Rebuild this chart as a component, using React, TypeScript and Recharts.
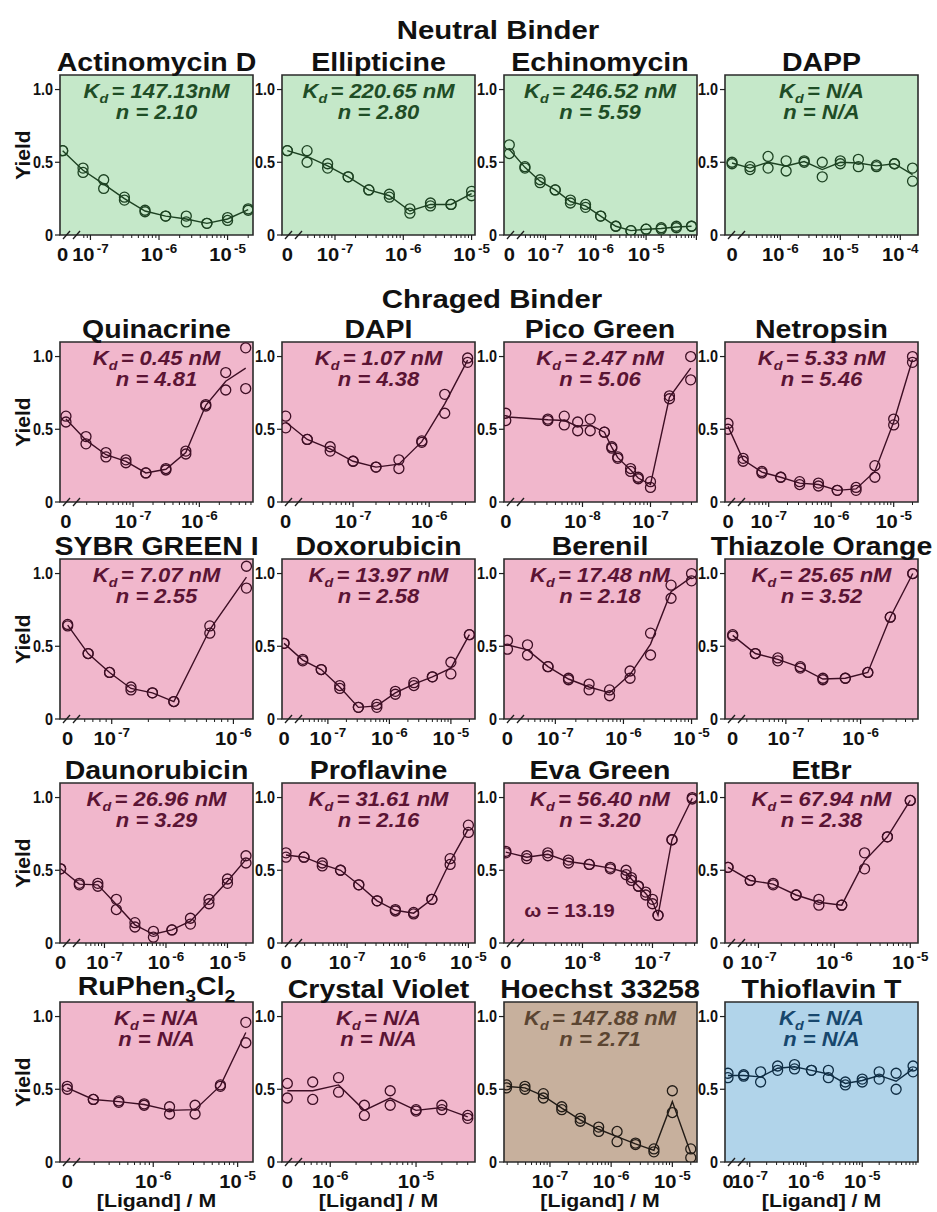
import React from "react";
import {
  ComposedChart,
  Line,
  Scatter,
  XAxis,
  YAxis,
  CartesianGrid,
  ReferenceArea,
} from "recharts";

const FONT = '"Liberation Sans", Arial, Helvetica, sans-serif';

// ---------- data: ligand concentration (M) and two replicate yields ----------
const actinoConc = [0, 7.8e-8, 1.56e-7, 3.13e-7, 6.25e-7, 1.25e-6, 2.5e-6, 5e-6, 1e-5, 2e-5];
const actinoRep1 = [0.58, 0.46, 0.38, 0.26, 0.17, 0.13, 0.13, 0.08, 0.12, 0.18];
const actinoRep2 = [0.58, 0.43, 0.32, 0.24, 0.16, 0.13, 0.09, 0.08, 0.1, 0.17];

const ellipConc = [0, 3.9e-8, 7.8e-8, 1.56e-7, 3.13e-7, 6.25e-7, 1.25e-6, 2.5e-6, 5e-6, 1e-5];
const ellipRep1 = [0.58, 0.58, 0.49, 0.4, 0.31, 0.28, 0.18, 0.22, 0.21, 0.3];
const ellipRep2 = [0.58, 0.5, 0.46, 0.4, 0.31, 0.26, 0.15, 0.2, 0.21, 0.27];

const echinoConc = [0, 3.9e-8, 7.8e-8, 1.56e-7, 3.13e-7, 6.25e-7, 1.25e-6, 2.5e-6, 5e-6, 1e-5, 2e-5, 4e-5, 8e-5];
const echinoRep1 = [0.62, 0.47, 0.38, 0.31, 0.24, 0.21, 0.13, 0.06, 0.03, 0.04, 0.05, 0.06, 0.06];
const echinoRep2 = [0.56, 0.46, 0.36, 0.31, 0.22, 0.19, 0.13, 0.06, 0.03, 0.04, 0.04, 0.05, 0.06];

const dappConc = [0, 3.13e-7, 6.25e-7, 1.25e-6, 2.5e-6, 5e-6, 1e-5, 2e-5, 4e-5, 8e-5, 1.6e-4];
const dappRep1 = [0.5, 0.47, 0.54, 0.51, 0.51, 0.5, 0.51, 0.52, 0.48, 0.49, 0.46];
const dappRep2 = [0.49, 0.45, 0.46, 0.44, 0.5, 0.4, 0.49, 0.47, 0.47, 0.49, 0.37];

const quinaConc = [0, 1.95e-8, 3.9e-8, 7.8e-8, 1.56e-7, 3.13e-7, 6.25e-7, 1.25e-6, 2.5e-6, 5e-6];
const quinaRep1 = [0.59, 0.45, 0.34, 0.29, 0.2, 0.23, 0.35, 0.67, 0.89, 1.06];
const quinaRep2 = [0.55, 0.4, 0.31, 0.27, 0.2, 0.22, 0.33, 0.66, 0.77, 0.78];

const dapiConc = [0, 2.5e-8, 5e-8, 1e-7, 2e-7, 4e-7, 8e-7, 1.6e-6, 3.2e-6];
const dapiRep1 = [0.59, 0.43, 0.38, 0.28, 0.24, 0.29, 0.42, 0.74, 0.99];
const dapiRep2 = [0.51, 0.43, 0.35, 0.28, 0.24, 0.23, 0.41, 0.61, 0.96];

const picoConc = [0, 3.1e-9, 5.4e-9, 8.5e-9, 1.3e-8, 2.1e-8, 2.7e-8, 3.3e-8, 5.1e-8, 6.6e-8, 1e-7, 1.9e-7, 3.9e-7];
const picoRep1 = [0.61, 0.57, 0.59, 0.55, 0.57, 0.48, 0.38, 0.31, 0.23, 0.17, 0.14, 0.73, 1.0];
const picoRep2 = [0.56, 0.56, 0.53, 0.49, 0.49, 0.48, 0.37, 0.3, 0.21, 0.16, 0.1, 0.71, 0.84];

const netroConc = [0, 3.9e-8, 7.8e-8, 1.56e-7, 3.13e-7, 6.25e-7, 1.25e-6, 2.5e-6, 5e-6, 1e-5, 2e-5];
const netroRep1 = [0.54, 0.3, 0.21, 0.17, 0.14, 0.13, 0.08, 0.1, 0.25, 0.57, 1.0];
const netroRep2 = [0.5, 0.28, 0.2, 0.17, 0.12, 0.11, 0.08, 0.08, 0.17, 0.53, 0.96];

const sybrConc = [0, 6.4e-8, 9.6e-8, 1.44e-7, 2.16e-7, 3.24e-7, 6.4e-7, 1.28e-6];
const sybrRep1 = [0.65, 0.45, 0.32, 0.22, 0.18, 0.12, 0.64, 1.05];
const sybrRep2 = [0.64, 0.45, 0.32, 0.2, 0.18, 0.12, 0.59, 0.9];

const doxoConc = [0, 3.9e-8, 7.8e-8, 1.56e-7, 3.13e-7, 6.25e-7, 1.25e-6, 2.5e-6, 5e-6, 1e-5, 2e-5];
const doxoRep1 = [0.52, 0.41, 0.34, 0.23, 0.08, 0.1, 0.19, 0.25, 0.29, 0.39, 0.58];
const doxoRep2 = [0.52, 0.4, 0.34, 0.21, 0.08, 0.08, 0.17, 0.23, 0.29, 0.31, 0.58];

const berenConc = [0, 3.9e-8, 7.8e-8, 1.56e-7, 3.13e-7, 6.25e-7, 1.25e-6, 2.5e-6, 5e-6, 1e-5];
const berenRep1 = [0.54, 0.51, 0.36, 0.28, 0.24, 0.2, 0.33, 0.59, 0.92, 1.0];
const berenRep2 = [0.48, 0.44, 0.36, 0.27, 0.2, 0.16, 0.28, 0.44, 0.83, 0.95];

const thiazConc = [0, 3.9e-8, 7.8e-8, 1.56e-7, 3.13e-7, 6.25e-7, 1.25e-6, 2.5e-6, 5e-6];
const thiazRep1 = [0.58, 0.45, 0.42, 0.36, 0.28, 0.28, 0.32, 0.7, 1.0];
const thiazRep2 = [0.57, 0.45, 0.4, 0.35, 0.27, 0.28, 0.32, 0.7, 1.0];

const daunoConc = [0, 3.9e-8, 7.8e-8, 1.56e-7, 3.13e-7, 6.25e-7, 1.25e-6, 2.5e-6, 5e-6, 1e-5, 2e-5];
const daunoRep1 = [0.51, 0.41, 0.41, 0.3, 0.14, 0.08, 0.09, 0.17, 0.3, 0.44, 0.6];
const daunoRep2 = [0.51, 0.4, 0.39, 0.23, 0.11, 0.04, 0.09, 0.13, 0.27, 0.41, 0.55];

const proflConc = [0, 1.95e-8, 3.9e-8, 7.8e-8, 1.56e-7, 3.13e-7, 6.25e-7, 1.25e-6, 2.5e-6, 5e-6, 1e-5];
const proflRep1 = [0.62, 0.59, 0.55, 0.5, 0.4, 0.29, 0.23, 0.21, 0.3, 0.58, 0.81];
const proflRep2 = [0.59, 0.59, 0.53, 0.5, 0.4, 0.29, 0.22, 0.2, 0.3, 0.54, 0.76];

const evaConc = [0, 1.6e-9, 3.2e-9, 6.3e-9, 1.25e-8, 2.5e-8, 4.2e-8, 5e-8, 6.3e-8, 8e-8, 1e-7, 1.2e-7, 1.9e-7, 3.7e-7];
const evaRep1 = [0.63, 0.6, 0.62, 0.57, 0.54, 0.52, 0.5, 0.45, 0.39, 0.35, 0.3, 0.19, 0.71, 1.0];
const evaRep2 = [0.62, 0.58, 0.6, 0.55, 0.54, 0.51, 0.47, 0.43, 0.39, 0.33, 0.27, 0.19, 0.71, 0.99];

const etbrConc = [0, 7.8e-8, 1.56e-7, 3.13e-7, 6.25e-7, 1.25e-6, 2.5e-6, 5e-6, 1e-5];
const etbrRep1 = [0.52, 0.43, 0.41, 0.33, 0.3, 0.26, 0.62, 0.73, 0.98];
const etbrRep2 = [0.52, 0.43, 0.4, 0.33, 0.26, 0.26, 0.51, 0.73, 0.98];

const ruphenConc = [0, 1.95e-7, 3.9e-7, 7.8e-7, 1.56e-6, 3.13e-6, 6.25e-6, 1.25e-5];
const ruphenRep1 = [0.52, 0.43, 0.42, 0.4, 0.38, 0.39, 0.53, 0.96];
const ruphenRep2 = [0.5, 0.43, 0.41, 0.39, 0.33, 0.33, 0.52, 0.82];

const violetConc = [0, 6.25e-7, 1.25e-6, 2.5e-6, 5e-6, 1e-5, 2e-5, 4e-5];
const violetRep1 = [0.54, 0.55, 0.58, 0.39, 0.49, 0.36, 0.39, 0.32];
const violetRep2 = [0.44, 0.43, 0.48, 0.32, 0.39, 0.35, 0.36, 0.3];

const hoechstConc = [1.95e-8, 3.9e-8, 7.8e-8, 1.56e-7, 3.13e-7, 6.25e-7, 1.25e-6, 2.5e-6, 5e-6, 1e-5, 2e-5];
const hoechstRep1 = [0.53, 0.52, 0.47, 0.38, 0.3, 0.24, 0.21, 0.13, 0.09, 0.49, 0.09];
const hoechstRep2 = [0.51, 0.5, 0.44, 0.36, 0.28, 0.21, 0.14, 0.12, 0.07, 0.34, 0.03];

const thioflConc = [0, 7.8e-8, 1.56e-7, 3.13e-7, 6.25e-7, 1.25e-6, 2.5e-6, 5e-6, 1e-5, 2e-5, 4e-5, 8e-5];
const thioflRep1 = [0.61, 0.6, 0.62, 0.66, 0.67, 0.63, 0.63, 0.55, 0.57, 0.62, 0.61, 0.66];
const thioflRep2 = [0.58, 0.59, 0.55, 0.63, 0.64, 0.63, 0.58, 0.53, 0.55, 0.57, 0.5, 0.62];

// ---------- layout ----------
const COL_LEFT = [60, 282, 503.5, 725];
const ROW_TOP = [75, 342, 559, 783, 1002];
const PLOT_W = 193;
const PLOT_H = 160;
const Y_AXIS_W = 40;
const X_AXIS_H = 44;
const M_TOP = 4;
const M_RIGHT = 4;
const CW = Y_AXIS_W + PLOT_W + M_RIGHT;
const CH = M_TOP + PLOT_H + X_AXIS_H;
const Y_MAX = 1.1;

const BORDER = "#2b2b2b";
const AXIS = "#1e1e1e";
const INK = "#111";

type Theme = { bg: string; mark: string; text: string };
const GREEN: Theme = { bg: "#c5e8c9", mark: "#1d4222", text: "#1f4d26" };
const PINK: Theme = { bg: "#f1b7cc", mark: "#3d0e24", text: "#5b1434" };
const BROWN: Theme = { bg: "#c7b09d", mark: "#221c17", text: "#5b4532" };
const BLUE: Theme = { bg: "#b1d4ea", mark: "#0f2d44", text: "#17476d" };

interface PanelSpec {
  title: React.ReactNode;
  titleDy?: number;
  kd: string;
  n: string;
  theme: Theme;
  conc: number[];
  rep1: number[];
  rep2: number[];
  lo: number; // log10 at left edge of plot
  hi: number; // log10 at right edge of plot
  zero: number | null; // axis position used for the blank (0 M) sample
  decades: number[]; // labelled decades
}

const PANELS: PanelSpec[] = [
  { title: "Actinomycin D", kd: "147.13nM", n: "2.10", theme: GREEN, conc: actinoConc, rep1: actinoRep1, rep2: actinoRep2, lo: -7.444, hi: -4.629, zero: -7.405, decades: [-7, -6, -5] },
  { title: "Ellipticine", kd: "220.65 nM", n: "2.80", theme: GREEN, conc: ellipConc, rep1: ellipRep1, rep2: ellipRep2, lo: -7.776, hi: -4.95, zero: -7.698, decades: [-7, -6, -5] },
  { title: "Echinomycin", kd: "246.52 nM", n: "5.59", theme: GREEN, conc: echinoConc, rep1: echinoRep1, rep2: echinoRep2, lo: -7.825, hi: -3.988, zero: -7.72, decades: [-7, -6, -5] },
  { title: "DAPP", kd: "N/A", n: "N/A", theme: GREEN, conc: dappConc, rep1: dappRep1, rep2: dappRep2, lo: -6.922, hi: -3.705, zero: -6.805, decades: [-6, -5, -4] },

  { title: "Quinacrine", kd: "0.45 nM", n: "4.81", theme: PINK, conc: quinaConc, rep1: quinaRep1, rep2: quinaRep2, lo: -8.102, hi: -5.191, zero: -8.012, decades: [-7, -6] },
  { title: "DAPI", kd: "1.07 nM", n: "4.38", theme: PINK, conc: dapiConc, rep1: dapiRep1, rep2: dapiRep2, lo: -7.934, hi: -5.398, zero: -7.885, decades: [-7, -6] },
  { title: "Pico Green", kd: "2.47 nM", n: "5.06", theme: PINK, conc: picoConc, rep1: picoRep1, rep2: picoRep2, lo: -9.154, hi: -6.316, zero: -9.128, decades: [-8, -7] },
  { title: "Netropsin", kd: "5.33 nM", n: "5.46", theme: PINK, conc: netroConc, rep1: netroRep1, rep2: netroRep2, lo: -7.699, hi: -4.611, zero: -7.651, decades: [-7, -6, -5] },

  { title: "SYBR GREEN I", kd: "7.07 nM", n: "2.55", theme: PINK, conc: sybrConc, rep1: sybrRep1, rep2: sybrRep2, lo: -7.425, hi: -5.839, zero: -7.362, decades: [-7, -6] },
  { title: "Doxorubicin", kd: "13.97 nM", n: "2.58", theme: PINK, conc: doxoConc, rep1: doxoRep1, rep2: doxoRep2, lo: -7.746, hi: -4.608, zero: -7.713, decades: [-7, -6, -5] },
  { title: "Berenil", kd: "17.48 nM", n: "2.18", theme: PINK, conc: berenConc, rep1: berenRep1, rep2: berenRep2, lo: -7.754, hi: -4.92, zero: -7.703, decades: [-7, -6, -5] },
  { title: "Thiazole Orange", kd: "25.65 nM", n: "3.52", theme: PINK, conc: thiazConc, rep1: thiazRep1, rep2: thiazRep2, lo: -7.815, hi: -5.231, zero: -7.712, decades: [-7, -6] },

  { title: "Daunorubicin", kd: "26.96 nM", n: "3.29", theme: PINK, conc: daunoConc, rep1: daunoRep1, rep2: daunoRep2, lo: -7.723, hi: -4.585, zero: -7.713, decades: [-7, -6, -5] },
  { title: "Proflavine", kd: "31.61 nM", n: "2.16", theme: PINK, conc: proflConc, rep1: proflRep1, rep2: proflRep2, lo: -8.073, hi: -4.891, zero: -8.007, decades: [-7, -6, -5] },
  { title: "Eva Green", kd: "56.40 nM", n: "3.20", theme: PINK, conc: evaConc, rep1: evaRep1, rep2: evaRep2, lo: -9.121, hi: -6.364, zero: -9.095, decades: [-8, -7] },
  { title: "EtBr", kd: "67.94 nM", n: "2.38", theme: PINK, conc: etbrConc, rep1: etbrRep1, rep2: etbrRep2, lo: -7.441, hi: -4.898, zero: -7.401, decades: [-7, -6, -5] },

  {
    title: (
      <>
        <tspan>RuPhen</tspan>
        <tspan fontSize={17} dy={7}>3</tspan>
        <tspan dy={-7}>Cl</tspan>
        <tspan fontSize={17} dy={7}>2</tspan>
      </>
    ),
    titleDy: 7,
    kd: "N/A", n: "N/A", theme: PINK, conc: ruphenConc, rep1: ruphenRep1, rep2: ruphenRep2, lo: -7.105, hi: -4.818, zero: -7.019, decades: [-6, -5],
  },
  { title: "Crystal Violet", kd: "N/A", n: "N/A", theme: PINK, conc: violetConc, rep1: violetRep1, rep2: violetRep2, lo: -6.562, hi: -4.313, zero: -6.5, decades: [-6, -5] },
  { title: "Hoechst 33258", kd: "147.88 nM", n: "2.71", theme: BROWN, conc: hoechstConc, rep1: hoechstRep1, rep2: hoechstRep2, lo: -7.751, hi: -4.597, zero: null, decades: [-7, -6, -5] },
  { title: "Thioflavin T", kd: "N/A", n: "N/A", theme: BLUE, conc: thioflConc, rep1: thioflRep1, rep2: thioflRep2, lo: -7.44, hi: -4.009, zero: -7.387, decades: [-7, -6, -5] },
];

const tickTextStyle: React.CSSProperties = {
  fontFamily: FONT,
  fontWeight: 700,
  fill: INK,
};

const near = (u: number, v: number) => Math.abs(u - v) < 1e-9;

function PanelChart({ spec, left, top }: { spec: PanelSpec; left: number; top: number }) {
  const data = spec.conc.map((c, i) => ({
    x: c === 0 ? (spec.zero as number) : Math.log10(c),
    a: spec.rep1[i],
    b: spec.rep2[i],
    m: (spec.rep1[i] + spec.rep2[i]) / 2,
  }));

  // decade ticks plus 2..9 minor ticks, starting after the axis break
  const pxPerDecade = PLOT_W / (spec.hi - spec.lo);
  const minorStart = spec.zero === null ? spec.lo : spec.lo + 21 / pxPerDecade;
  const ticks: number[] = [];
  if (spec.zero !== null) ticks.push(spec.lo, spec.zero);
  for (let e = Math.floor(spec.lo); e <= Math.ceil(spec.hi); e++) {
    for (let k = 1; k <= 9; k++) {
      const v = e + Math.log10(k);
      if (v >= minorStart && v <= spec.hi) ticks.push(v);
    }
  }
  ticks.sort((p, q) => p - q);

  const xTick = (props: any) => {
    const { x, y, payload } = props;
    const v = payload.value as number;
    if (spec.zero !== null && near(v, spec.lo)) {
      // axis break marks
      return (
        <g stroke={AXIS} strokeWidth={1.3}>
          <line x1={x + 3} y1={y + 4} x2={x + 10} y2={y - 4} />
          <line x1={x + 13} y1={y + 4} x2={x + 20} y2={y - 4} />
        </g>
      );
    }
    if (spec.zero !== null && near(v, spec.zero)) {
      return (
        <text transform={`translate(${x} ${y + 26}) scale(1.12 1)`} textAnchor="middle" fontSize={18} style={tickTextStyle}>
          0
        </text>
      );
    }
    const e = Math.round(v);
    if (near(v, e)) {
      return (
        <g>
          <line x1={x} y1={y} x2={x} y2={y + 5} stroke={AXIS} strokeWidth={1.2} />
          {spec.decades.includes(e) && (
            <text transform={`translate(${x} ${y + 26}) scale(1.12 1)`} textAnchor="middle" fontSize={18} style={tickTextStyle}>
              <tspan>10</tspan>
              <tspan dx={2} dy={-8} fontSize={12}>
                {String(e)}
              </tspan>
            </text>
          )}
        </g>
      );
    }
    return <line x1={x} y1={y} x2={x} y2={y + 3} stroke={AXIS} strokeWidth={1} />;
  };

  const yTick = (props: any) => {
    const { x, y, payload } = props;
    const v = payload.value as number;
    return (
      <text transform={`translate(${x} ${y + 5.5}) scale(0.9 1)`} textAnchor="end" fontSize={16} style={tickTextStyle}>
        {v === 0 ? "0" : v.toFixed(1)}
      </text>
    );
  };

  const ring = (props: any) => (
    <circle cx={props.cx} cy={props.cy} r={5} fill="none" stroke={spec.theme.mark} strokeWidth={1.3} />
  );

  return (
    <div style={{ position: "absolute", left: left - Y_AXIS_W, top: top - M_TOP, width: CW, height: CH }}>
      <ComposedChart
        width={CW}
        height={CH}
        data={data}
        margin={{ top: M_TOP, right: M_RIGHT, bottom: 0, left: 0 }}
      >
        <CartesianGrid horizontal={false} vertical={false} fill={spec.theme.bg} fillOpacity={1} stroke="none" />
        <XAxis
          type="number"
          dataKey="x"
          domain={[spec.lo, spec.hi]}
          allowDataOverflow
          ticks={ticks}
          interval={0}
          tickSize={0}
          tickMargin={0}
          tickLine={false}
          axisLine={false}
          height={X_AXIS_H}
          tick={xTick}
        />
        <YAxis
          type="number"
          domain={[0, Y_MAX]}
          allowDataOverflow
          ticks={[0, 0.5, 1]}
          interval={0}
          width={Y_AXIS_W}
          axisLine={false}
          tickSize={5}
          tickMargin={2}
          tickLine={{ stroke: AXIS, strokeWidth: 1.2 }}
          tick={yTick}
        />
        <ReferenceArea x1={spec.lo} x2={spec.hi} y1={0} y2={Y_MAX} fill="none" fillOpacity={0} stroke={BORDER} strokeWidth={1.6} />
        <Line
          type="linear"
          dataKey="m"
          stroke={spec.theme.mark}
          strokeWidth={1.4}
          dot={false}
          activeDot={false}
          isAnimationActive={false}
        />
        <Scatter dataKey="a" shape={ring} isAnimationActive={false} />
        <Scatter dataKey="b" shape={ring} isAnimationActive={false} />
      </ComposedChart>
    </div>
  );
}

function Annotations() {
  return (
    <svg
      width={937}
      height={1212}
      style={{ position: "absolute", left: 0, top: 0, pointerEvents: "none" }}
      fontFamily={FONT}
    >
      <text transform="translate(498 38.5) scale(1.13 1)" textAnchor="middle" fontSize={26} fontWeight={700} fill={INK}>
        Neutral Binder
      </text>
      <text transform="translate(492 308) scale(1.13 1)" textAnchor="middle" fontSize={26} fontWeight={700} fill={INK}>
        Chraged Binder
      </text>

      {ROW_TOP.map((t, r) => (
        <text key={`yl${r}`} transform={`translate(30 ${t + PLOT_H / 2}) rotate(-90)`} textAnchor="middle" fontSize={21} fontWeight={700} fill={INK}>
          Yield
        </text>
      ))}

      {PANELS.map((p, i) => {
        const col = i % 4;
        const row = Math.floor(i / 4);
        const cx = COL_LEFT[col] + PLOT_W / 2;
        const top = ROW_TOP[row];
        return (
          <g key={`p${i}`}>
            <text
              transform={`translate(${cx} ${top - (p.titleDy ?? 4.5)}) scale(1.14 1)`}
              textAnchor="middle"
              fontSize={25}
              fontWeight={700}
              fill={INK}
            >
              {p.title}
            </text>
            <text
              transform={`translate(${cx} ${top + 23}) scale(1.1 1)`}
              textAnchor="middle"
              fontSize={20}
              fontWeight={700}
              fontStyle="italic"
              fill={p.theme.text}
            >
              <tspan>K</tspan>
              <tspan fontSize={13} dy={5}>d</tspan>
              <tspan dy={-5} dx={3}>= {p.kd}</tspan>
            </text>
            <text
              transform={`translate(${cx} ${top + 44}) scale(1.1 1)`}
              textAnchor="middle"
              fontSize={20}
              fontWeight={700}
              fontStyle="italic"
              fill={p.theme.text}
            >
              n = {p.n}
            </text>
          </g>
        );
      })}

      <text transform="translate(569.5 916.5) scale(1.12 1)" textAnchor="middle" fontSize={18} fontWeight={700} fill={PINK.text}>
        ω = 13.19
      </text>

      {COL_LEFT.map((l, c) => (
        <text key={`xl${c}`} transform={`translate(${l + PLOT_W / 2} 1207) scale(1.12 1)`} textAnchor="middle" fontSize={19} fontWeight={700} fill={INK}>
          [Ligand] / M
        </text>
      ))}
    </svg>
  );
}

export default function App() {
  return (
    <div style={{ position: "absolute", left: 0, top: 0, width: 937, height: 1212, background: "#fff", fontFamily: FONT }}>
      <style>{`.recharts-surface { overflow: visible; }`}</style>
      {PANELS.map((p, i) => (
        <PanelChart key={i} spec={p} left={COL_LEFT[i % 4]} top={ROW_TOP[Math.floor(i / 4)]} />
      ))}
      <Annotations />
    </div>
  );
}
